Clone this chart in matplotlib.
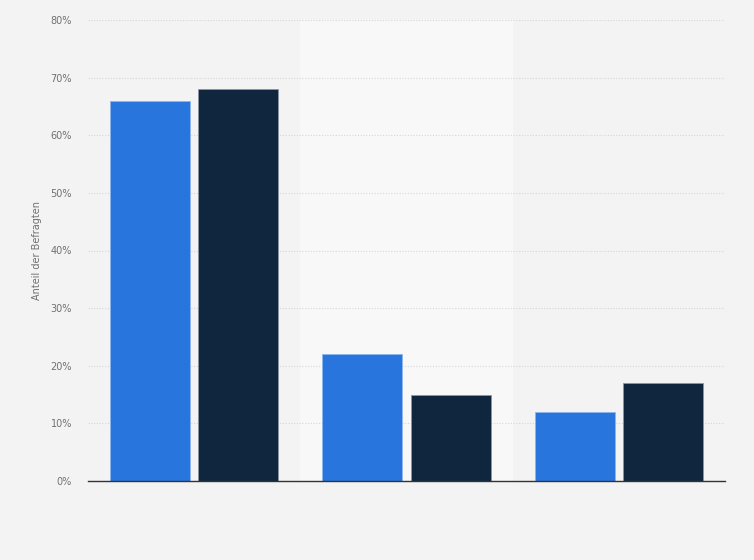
import matplotlib
matplotlib.use("Agg")
import matplotlib.pyplot as plt
import numpy as np
from matplotlib.ticker import FuncFormatter

categories = ["", "", ""]
series_a = [66, 22, 12]
series_b = [68, 15, 17]
yticks = [0, 10, 20, 30, 40, 50, 60, 70, 80]

fig = plt.figure(figsize=(7.54, 5.6), dpi=100)
fig.patch.set_facecolor("#f3f3f3")
ax = fig.add_axes([88/754, 79/560, (725-88)/754, (481-20)/560])
ax.set_facecolor("#f3f3f3")

x = np.arange(len(categories))
w = 0.377
off = 0.208
ax.axvspan(0.5, 1.5, color="#f8f8f8", zorder=0, lw=0)
ax.bar(x - off, series_a, width=w, color="#2876dd", edgecolor="#8fb6ea", linewidth=0.6, zorder=3)
ax.bar(x + off, series_b, width=w, color="#0f263e", edgecolor="#8a96a3", linewidth=0.6, zorder=3)

ax.set_xlim(-0.5, 2.5)
ax.set_ylim(0, 80)
ax.set_yticks(yticks)
ax.yaxis.set_major_formatter(FuncFormatter(lambda v, p: f"{int(v)}%"))
ax.set_xticks(x)
ax.set_xticklabels(categories)
ax.tick_params(axis="x", length=0)
ax.tick_params(axis="y", length=0, pad=11.5, labelsize=7, labelcolor="#707070")
ax.grid(axis="y", color="#d6d6d6", linestyle=(0, (1, 1.5)), linewidth=0.8, zorder=1)
for s in ["top", "right", "left"]:
    ax.spines[s].set_visible(False)
ax.spines["bottom"].set_color("#333333")
ax.spines["bottom"].set_linewidth(1.0)
ax.spines["bottom"].set_zorder(4)
ax.set_ylabel("Anteil der Befragten", fontsize=7, color="#707070", labelpad=6)

fig.savefig("out.png", dpi=100, facecolor=fig.get_facecolor())
